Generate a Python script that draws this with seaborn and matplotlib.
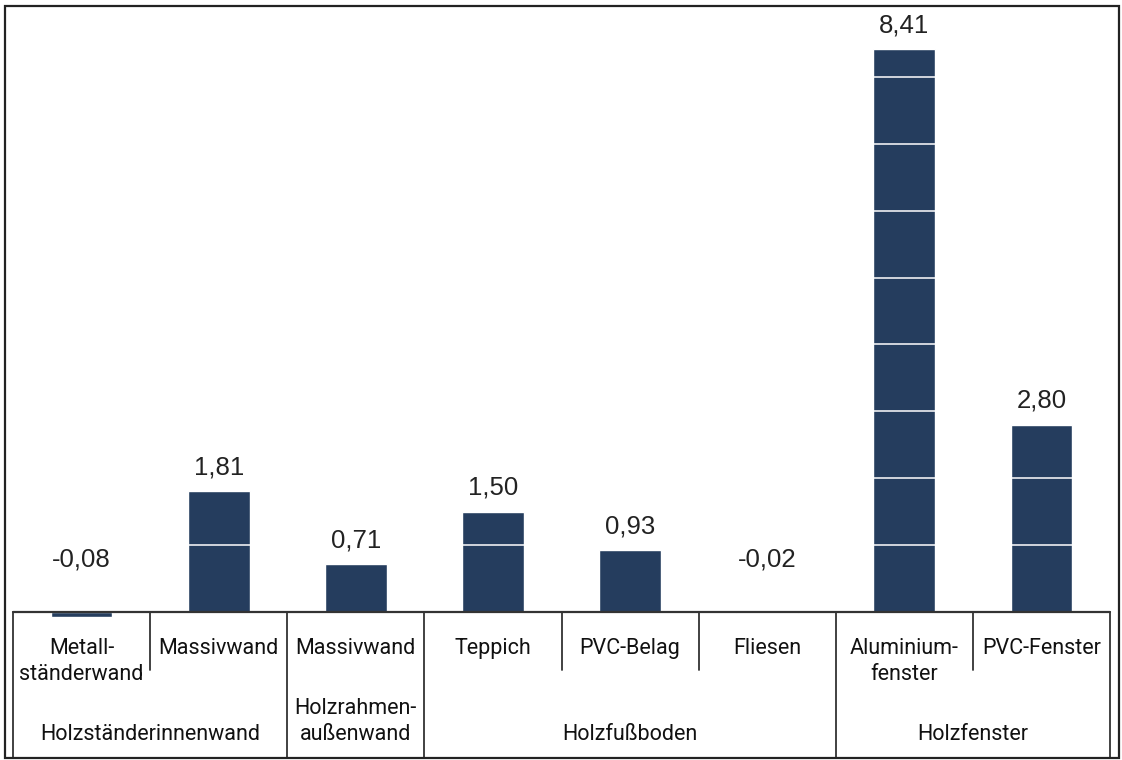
from matplotlib import pyplot as plt
from matplotlib.patches import Rectangle
import seaborn as sns
import pandas as pd
import numpy as np

# data
bauteile = ["Metall-\nständerwand", "Massivwand", "Massivwand", "Teppich",
            "PVC-Belag", "Fliesen", "Aluminium-\nfenster", "PVC-Fenster"]
gruppen = ["Holzständerinnenwand", "Holzständerinnenwand", "Holzrahmen-\naußenwand",
           "Holzfußboden", "Holzfußboden", "Holzfußboden", "Holzfenster", "Holzfenster"]
werte = [-0.08, 1.81, 0.71, 1.50, 0.93, -0.02, 8.41, 2.80]

df = pd.DataFrame({"pos": range(len(werte)), "wert": werte})

sns.set_theme(style="white")
plt.rcParams['font.family'] = ['Liberation Sans', 'DejaVu Sans']
narrow = ['Roboto', 'DejaVu Sans']

bar_color = "#253d5e"
line_color = "#333333"

fig = plt.figure(figsize=(11.22, 7.6), dpi=100)
W, H = 1122, 760

# main axes (bars), zero line sits at y=612 px
ax = fig.add_axes([13 / W, 1 - 622 / H, 1097 / W, 616 / H])
sns.barplot(data=df, x="pos", y="wert", color=bar_color, saturation=1,
            width=0.45, ax=ax, zorder=2)
ax.set_xlim(-0.5, len(werte) - 0.5)
ax.set_ylim(-0.15, 9.06)
ax.set_yticks(range(1, 9))
# white grid: only shows where it crosses the bars
ax.yaxis.grid(True, color="white", lw=1.1, zorder=3)
ax.set_axisbelow(False)
ax.tick_params(left=False, bottom=False, labelleft=False, labelbottom=False)
ax.set_xlabel("")
ax.set_ylabel("")
for s in ax.spines.values():
    s.set_visible(False)
ax.patch.set_alpha(0)

for i, v in enumerate(werte):
    txt = f"{v:.2f}".replace(".", ",")
    y = v + 0.25 if v > 0 else 0.68
    ax.text(i, y, txt, ha="center", va="baseline", fontsize=18.5, color="#222222")

# category table below the bars
tab = fig.add_axes([13 / W, 2 / H, 1097 / W, 146 / H])
tab.set_xlim(-0.5, len(werte) - 0.5)
tab.set_ylim(146, 0)
tab.axis("off")

n = len(werte)
tab.plot([-0.5, n - 0.5], [0, 0], color=line_color, lw=1.6, clip_on=False)
tab.plot([-0.5, -0.5], [0, 146], color=line_color, lw=1.3, clip_on=False)
tab.plot([n - 0.5, n - 0.5], [0, 146], color=line_color, lw=1.3, clip_on=False)
for i in range(n - 1):
    y_end = 146 if gruppen[i] != gruppen[i + 1] else 58
    tab.plot([i + 0.5, i + 0.5], [0, y_end], color=line_color, lw=1.3, clip_on=False)

for i, b in enumerate(bauteile):
    tab.text(i, 26, b, ha="center", va="top", fontsize=15.5, family=narrow,
             color="#111111", linespacing=1.3)

start = 0
for i in range(1, n + 1):
    if i == n or gruppen[i] != gruppen[start]:
        mitte = (start + i - 1) / 2
        tab.text(mitte, 128, gruppen[start], ha="center", va="baseline", fontsize=15.5,
                 family=narrow, color="#111111", linespacing=1.3)
        start = i

# outer frame
fig.add_artist(Rectangle((5 / W, 2 / H), 1114 / W, 752 / H, transform=fig.transFigure,
                         fill=False, ec="#222222", lw=1.6))

plt.savefig("out.png", dpi=100)
